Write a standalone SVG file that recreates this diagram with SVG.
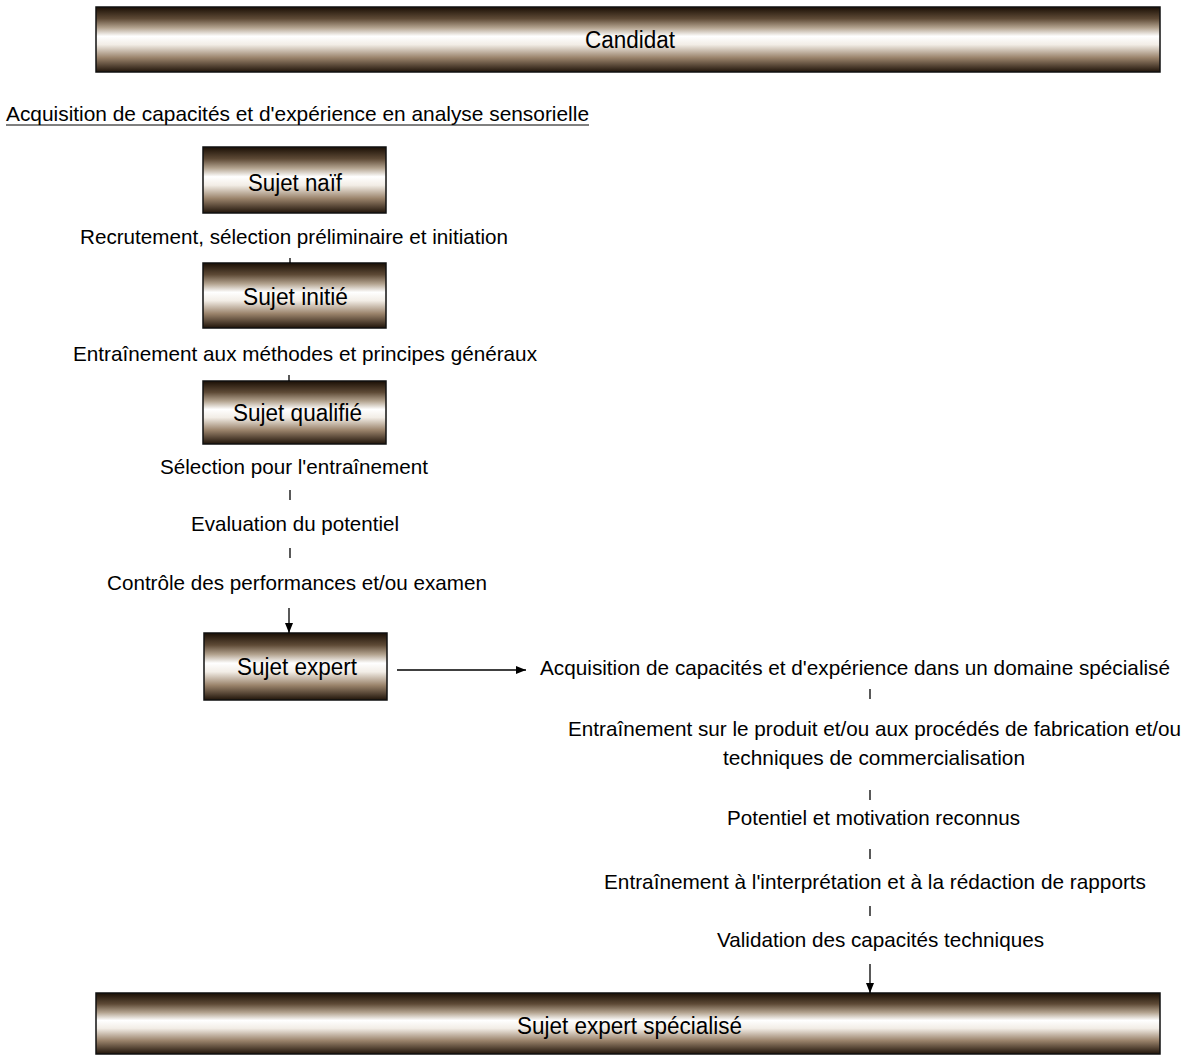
<svg xmlns="http://www.w3.org/2000/svg" width="1192" height="1056" viewBox="0 0 1192 1056">
<defs>
<linearGradient id="g" x1="0" y1="0" x2="0" y2="1">
<stop offset="0" stop-color="#1a0f05"/>
<stop offset="0.18" stop-color="#5e4a36"/>
<stop offset="0.32" stop-color="#b3a38f"/>
<stop offset="0.45" stop-color="#ffffff"/>
<stop offset="0.58" stop-color="#f2ede6"/>
<stop offset="0.78" stop-color="#9a836b"/>
<stop offset="1" stop-color="#20140a"/>
</linearGradient>
<marker id="ah" viewBox="0 0 10 10" refX="10" refY="5" markerWidth="10" markerHeight="10" markerUnits="userSpaceOnUse" orient="auto">
<path d="M0,1 L10,5 L0,9 Z" fill="#000"/>
</marker>
</defs>
<style>
.box{fill:url(#g);stroke:#111;stroke-width:1.5}
.bt{font-family:"Liberation Sans",Arial,sans-serif;font-size:23px;fill:#000}
.lt{font-family:"Liberation Sans",Arial,sans-serif;font-size:21px;fill:#000}
.c{stroke:#000;stroke-width:1.3;fill:none}
.a{stroke:#000;stroke-width:1.3;fill:none;marker-end:url(#ah)}
</style>
<rect width="1192" height="1056" fill="#fff"/>

<g id="candidat">
<rect class="box" x="96" y="7" width="1064" height="65"/>
<text class="bt" x="585" y="48" textLength="90" lengthAdjust="spacingAndGlyphs">Candidat</text>
</g>

<g id="titre">
<text class="lt" x="6" y="121" textLength="583" lengthAdjust="spacingAndGlyphs">Acquisition de capacités et d'expérience en analyse sensorielle</text>
<line x1="6" y1="125" x2="589" y2="125" stroke="#000" stroke-width="1"/>
</g>

<g id="sujet-naif">
<rect class="box" x="203" y="147" width="183" height="66"/>
<text class="bt" x="248" y="191" textLength="94" lengthAdjust="spacingAndGlyphs">Sujet naïf</text>
</g>

<g id="sujet-initie">
<rect class="box" x="203" y="263" width="183" height="65"/>
<text class="bt" x="243" y="305" textLength="105" lengthAdjust="spacingAndGlyphs">Sujet initié</text>
</g>

<g id="sujet-qualifie">
<rect class="box" x="203" y="381" width="183" height="63"/>
<text class="bt" x="233" y="421" textLength="129" lengthAdjust="spacingAndGlyphs">Sujet qualifié</text>
</g>

<g id="sujet-expert">
<rect class="box" x="204" y="633" width="183" height="67"/>
<text class="bt" x="237" y="675" textLength="120" lengthAdjust="spacingAndGlyphs">Sujet expert</text>
</g>

<g id="sujet-expert-specialise">
<rect class="box" x="96" y="993" width="1064" height="61"/>
<text class="bt" x="517" y="1034" textLength="225" lengthAdjust="spacingAndGlyphs">Sujet expert spécialisé</text>
</g>

<g id="etapes">
<text class="lt" x="80" y="244" textLength="428" lengthAdjust="spacingAndGlyphs">Recrutement, sélection préliminaire et initiation</text>
<text class="lt" x="73" y="361" textLength="464" lengthAdjust="spacingAndGlyphs">Entraînement aux méthodes et principes généraux</text>
<text class="lt" x="160" y="474" textLength="268" lengthAdjust="spacingAndGlyphs">Sélection pour l'entraînement</text>
<text class="lt" x="191" y="531" textLength="208" lengthAdjust="spacingAndGlyphs">Evaluation du potentiel</text>
<text class="lt" x="107" y="590" textLength="380" lengthAdjust="spacingAndGlyphs">Contrôle des performances et/ou examen</text>
<text class="lt" x="540" y="675" textLength="630" lengthAdjust="spacingAndGlyphs">Acquisition de capacités et d'expérience dans un domaine spécialisé</text>
<text class="lt" x="568" y="736" textLength="613" lengthAdjust="spacingAndGlyphs">Entraînement sur le produit et/ou aux procédés de fabrication et/ou</text>
<text class="lt" x="723" y="765" textLength="302" lengthAdjust="spacingAndGlyphs">techniques de commercialisation</text>
<text class="lt" x="727" y="825" textLength="293" lengthAdjust="spacingAndGlyphs">Potentiel et motivation reconnus</text>
<text class="lt" x="604" y="889" textLength="542" lengthAdjust="spacingAndGlyphs">Entraînement à l'interprétation et à la rédaction de rapports</text>
<text class="lt" x="717" y="947" textLength="327" lengthAdjust="spacingAndGlyphs">Validation des capacités techniques</text>
</g>

<g id="connecteurs">
<line class="c" x1="290" y1="258" x2="290" y2="263"/>
<line class="c" x1="289" y1="375" x2="289" y2="381"/>
<line class="c" x1="290" y1="490" x2="290" y2="500"/>
<line class="c" x1="290" y1="548" x2="290" y2="558"/>
<line class="a" x1="289" y1="608" x2="289" y2="633"/>
<line class="a" x1="397" y1="670" x2="526" y2="670"/>
<line class="c" x1="870" y1="689" x2="870" y2="699"/>
<line class="c" x1="870" y1="790" x2="870" y2="800"/>
<line class="c" x1="870" y1="849" x2="870" y2="859"/>
<line class="c" x1="870" y1="906" x2="870" y2="916"/>
<line class="a" x1="870" y1="964" x2="870" y2="993"/>
</g>
</svg>
